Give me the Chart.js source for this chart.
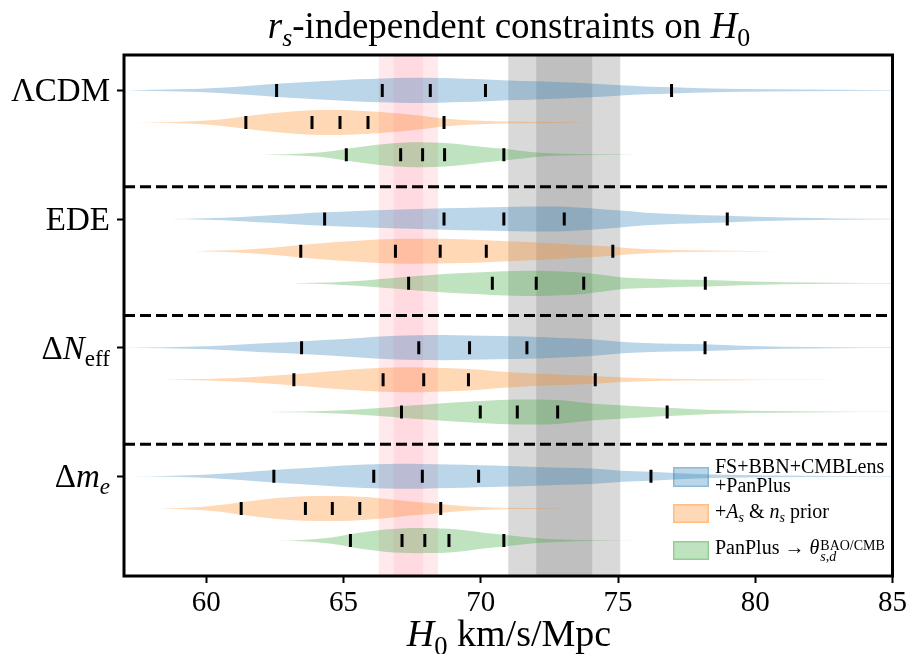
<!DOCTYPE html>
<html>
<head>
<meta charset="utf-8">
<script src="https://cdn.jsdelivr.net/npm/chart.js@4.4.1/dist/chart.umd.min.js"></script>
<style>
  body { margin: 0; background: #fff; }
  #wrap { position: relative; width: 910px; height: 654px; font-family: "Liberation Serif", "Times New Roman", serif; color: #000; }
  #c { position: absolute; left: 0; top: 0; }
  .title { position: absolute; left: 124px; width: 770px; top: 7px; text-align: center; font-size: 37px; line-height: 1; white-space: nowrap; }
  .xlabel { position: absolute; left: 124px; width: 770px; top: 614px; text-align: center; font-size: 38px; line-height: 1; white-space: nowrap; }
  .ylab { position: absolute; right: 800px; top: 0; font-size: 33px; line-height: 1; white-space: nowrap; transform: translateY(-50%); }
  sub { font-size: 70%; line-height: 0; vertical-align: -0.32em; }
  .patch { position: absolute; left: 673px; width: 36px; }
  .ltext { position: absolute; left: 715px; font-size: 20px; line-height: 19px; white-space: nowrap; }
  .ss { display: inline-block; font-size: 70%; line-height: 0.8; vertical-align: -6.8px; margin-left: 1px; }
  .ss span { display: block; }
</style>
</head>
<body>
<div id="wrap">
  <canvas id="c" width="910" height="654"></canvas>
  <div class="title"><i>r<sub>s</sub></i>-independent constraints on <i>H</i><sub>0</sub></div>
  <div class="xlabel"><i>H</i><sub>0</sub> km/s/Mpc</div>
  <div id="ylabels"></div>
  <div id="legend"></div>
</div>
<script>
// y-axis groups
const modelLabels = ['ΛCDM', 'EDE', 'Δ<i>N</i><sub>eff</sub>', 'Δ<i>m</i><sub><i>e</i></sub>'];
const modelRows = [0, 4, 8, 12];
const separatorRows = [3, 7, 11];
const xTickValues = [60, 65, 70, 75, 80, 85];

// legend entries (one per violin colour)
const seriesLabels = [
  'FS+BBN+CMBLens<br>+PanPlus',
  '+<i>A<sub>s</sub></i> &amp; <i>n<sub>s</sub></i> prior',
  'PanPlus → <i>θ</i><span class="ss"><span>BAO/CMB</span><span><i>s</i>,<i>d</i></span></span>'
];
const seriesColors = ['31,119,180', '255,127,14', '44,160,44'];

// reference H0 bands [mean, sigma]
const planckH0 = [67.36, 0.54];
const sh0esH0 = [73.04, 1.02];

// tick marks on each violin (2.5, 16, 50, 84, 97.5 %)
const lcdmFsMarks = [62.56, 66.41, 68.16, 70.17, 76.95];
const lcdmPriorMarks = [61.44, 63.85, 64.87, 65.89, 68.66];
const lcdmThetaMarks = [65.10, 67.08, 67.88, 68.68, 70.84];
const edeFsMarks = [64.31, 68.66, 70.84, 73.04, 78.98];
const edePriorMarks = [63.44, 66.89, 68.52, 70.20, 74.81];
const edeThetaMarks = [67.37, 70.42, 72.02, 73.75, 78.18];
const neffFsMarks = [63.47, 67.74, 69.59, 71.68, 78.17];
const neffPriorMarks = [63.19, 66.44, 67.92, 69.55, 74.17];
const neffThetaMarks = [67.11, 69.98, 71.33, 72.80, 76.79];
const meFsMarks = [62.46, 66.10, 67.87, 69.92, 76.20];
const mePriorMarks = [61.27, 63.61, 64.59, 65.59, 68.54];
const meThetaMarks = [65.25, 67.13, 67.96, 68.84, 70.84];

// violin outlines: [H0, relative half width]
const lcdmFsShape = [[57.1,0],[59,0.08],[60.5,0.2],[61.5,0.35],[62.56,0.52],[63.5,0.65],[64.5,0.77],[65.5,0.88],[66.4,0.95],[67.5,1.0],[68.5,0.98],[69.4,0.93],[70.2,0.87],[71,0.79],[72,0.72],[73,0.64],[74,0.55],[75.1,0.4],[76,0.31],[77,0.24],[78.5,0.14],[80.5,0.08],[83,0.04],[85,0.02]];
const lcdmPriorShape = [[57.4,0],[58.5,0.03],[59.5,0.1],[60.5,0.25],[61.44,0.5],[62.3,0.72],[63.1,0.88],[63.85,0.97],[64.4,1.0],[64.9,0.99],[65.9,0.9],[66.6,0.8],[67.3,0.66],[68,0.5],[68.66,0.32],[69.5,0.18],[70.5,0.1],[71.5,0.06],[73,0.03],[74.2,0]];
const lcdmThetaShape = [[62,0],[63,0.04],[64,0.15],[64.6,0.3],[65.1,0.46],[65.8,0.68],[66.5,0.86],[67.1,0.96],[67.9,1.0],[68.7,0.94],[69.4,0.8],[70.1,0.62],[70.84,0.47],[71.5,0.3],[72,0.18],[73,0.07],[74,0.03],[75.7,0]];
const edeFsShape = [[58.67,0],[60,0.06],[61.3,0.17],[62.5,0.32],[63.4,0.43],[64.31,0.53],[65.5,0.64],[66.8,0.74],[68.66,0.85],[70,0.92],[70.84,0.95],[71.8,0.99],[72.5,1.0],[73.04,0.98],[74,0.86],[75.07,0.67],[76,0.5],[77.2,0.38],[78.2,0.31],[78.98,0.27],[80,0.18],[81.5,0.1],[83,0.05],[85,0.02]];
const edePriorShape = [[59.58,0],[60.5,0.05],[61.5,0.14],[62.5,0.3],[63.44,0.5],[64.3,0.66],[65.2,0.8],[66.1,0.92],[66.89,0.98],[67.7,1.0],[68.52,0.99],[69.4,0.95],[70.2,0.88],[71,0.8],[72,0.7],[73,0.58],[74,0.46],[74.81,0.36],[75.6,0.22],[76.5,0.13],[77.5,0.07],[79,0.03],[80.8,0]];
const edeThetaShape = [[63.1,0],[64,0.04],[65,0.13],[66,0.27],[66.7,0.4],[67.37,0.52],[68.2,0.66],[69.2,0.8],[70.42,0.92],[71.3,0.98],[72.02,1.0],[72.9,0.95],[73.75,0.84],[74.4,0.68],[75.07,0.48],[76,0.38],[77,0.31],[78.18,0.26],[79.5,0.16],[81,0.08],[83,0.04],[85,0.02]];
const neffFsShape = [[57,0],[58.5,0.04],[60,0.12],[61.3,0.26],[62.5,0.4],[63.47,0.5],[64.5,0.63],[65.6,0.78],[66.7,0.92],[67.74,0.99],[68.6,1.0],[69.59,0.97],[70.6,0.93],[71.68,0.89],[72.5,0.82],[73.3,0.75],[74.04,0.67],[75.07,0.47],[76,0.37],[77,0.31],[78.17,0.27],[79.5,0.16],[81,0.08],[83,0.04],[85,0.02]];
const neffPriorShape = [[57.83,0],[59,0.02],[60,0.06],[61,0.14],[62.1,0.28],[63.19,0.45],[64.2,0.63],[65.3,0.82],[66.44,0.96],[67.2,1.0],[67.92,0.99],[68.7,0.94],[69.55,0.86],[70.6,0.68],[71.6,0.54],[72.6,0.44],[73.4,0.37],[74.17,0.31],[75,0.2],[76,0.12],[77.5,0.06],[79.5,0.03],[82,0.01],[84,0]];
const neffThetaShape = [[62.19,0],[63.5,0.03],[64.5,0.1],[65.5,0.2],[66.3,0.32],[67.11,0.46],[68,0.6],[69,0.76],[69.98,0.88],[70.7,0.96],[71.33,1.0],[72,1.0],[72.8,0.95],[73.5,0.8],[74.04,0.68],[75.07,0.53],[76,0.42],[76.79,0.33],[77.8,0.22],[79,0.13],[80.5,0.07],[82.5,0.03],[85,0.01]];
const meFsShape = [[57.27,0],[58.5,0.03],[59.7,0.1],[60.8,0.24],[61.7,0.38],[62.46,0.5],[63.5,0.64],[64.6,0.8],[65.4,0.9],[66.1,0.96],[67,1.0],[67.87,0.99],[68.9,0.94],[69.92,0.88],[71,0.82],[72,0.75],[73,0.68],[74.04,0.62],[75.07,0.45],[76.2,0.36],[77.2,0.24],[78.5,0.14],[80.5,0.07],[83,0.03],[85,0.02]];
const mePriorShape = [[58.24,0],[59,0.04],[59.8,0.12],[60.5,0.27],[61.27,0.5],[62,0.7],[62.8,0.87],[63.61,0.97],[64.3,1.0],[64.8,0.99],[65.59,0.93],[66.3,0.82],[67.1,0.64],[67.8,0.5],[68.54,0.36],[69.3,0.2],[70.2,0.1],[71.3,0.05],[72.5,0.02],[74,0]];
const meThetaShape = [[62.56,0],[63.5,0.05],[64.3,0.18],[64.8,0.33],[65.25,0.5],[65.9,0.72],[66.5,0.88],[67.13,0.97],[67.7,1.0],[68.3,0.99],[68.84,0.94],[69.5,0.8],[70.1,0.63],[70.84,0.47],[71.5,0.3],[72.2,0.17],[73,0.08],[74,0.03],[75.7,0]];

const groupShapes = [
  [lcdmFsShape, lcdmPriorShape, lcdmThetaShape],
  [edeFsShape, edePriorShape, edeThetaShape],
  [neffFsShape, neffPriorShape, neffThetaShape],
  [meFsShape, mePriorShape, meThetaShape]
];
const groupMarks = [
  [lcdmFsMarks, lcdmPriorMarks, lcdmThetaMarks],
  [edeFsMarks, edePriorMarks, edeThetaMarks],
  [neffFsMarks, neffPriorMarks, neffThetaMarks],
  [meFsMarks, mePriorMarks, meThetaMarks]
];

const halfWidth = 0.39; // max half width of a violin, in row units

const datasets = [];
groupShapes.forEach((shapes, g) => {
  shapes.forEach((shape, s) => {
    const row = modelRows[g] + s;
    datasets.push({
      type: 'line', order: 3,
      data: shape.map(([h, w]) => ({ x: h, y: row - w * halfWidth })),
      fill: '+1', backgroundColor: `rgba(${seriesColors[s]},0.3)`,
      borderColor: 'rgba(0,0,0,0)', borderWidth: 1,
      pointRadius: 0, pointHitRadius: 0, cubicInterpolationMode: 'monotone'
    });
    datasets.push({
      type: 'line', order: 3,
      data: shape.map(([h, w]) => ({ x: h, y: row + w * halfWidth })),
      fill: false, borderColor: 'rgba(0,0,0,0)', borderWidth: 1,
      pointRadius: 0, pointHitRadius: 0, cubicInterpolationMode: 'monotone'
    });
    datasets.push({
      type: 'scatter', order: 0,
      data: groupMarks[g][s].map(h => ({ x: h, y: row })),
      pointStyle: 'line', rotation: 90, pointRadius: 6.5, pointHoverRadius: 6.5,
      borderColor: '#000', borderWidth: 3, showLine: false
    });
  });
});

separatorRows.forEach(r => {
  datasets.push({
    type: 'line', order: 1,
    data: [{ x: 57, y: r }, { x: 85, y: r }],
    borderColor: '#000', borderWidth: 3, borderDash: [11, 5],
    pointRadius: 0, fill: false
  });
});

const bandsPlugin = {
  id: 'bands',
  beforeDatasetsDraw(chart) {
    const { ctx, chartArea: a, scales: { x } } = chart;
    ctx.save();
    [[planckH0, 'rgba(255,192,203,0.35)'], [sh0esH0, 'rgba(128,128,128,0.3)']].forEach(([b, col]) => {
      [2, 1].forEach(k => {
        const l = x.getPixelForValue(b[0] - k * b[1]);
        const r = x.getPixelForValue(b[0] + k * b[1]);
        ctx.fillStyle = col;
        ctx.fillRect(l, a.top, r - l, a.bottom - a.top);
      });
    });
    ctx.restore();
  }
};

const framePlugin = {
  id: 'frame',
  afterDatasetsDraw(chart) {
    const { ctx, chartArea: a } = chart;
    ctx.save();
    ctx.strokeStyle = '#000';
    ctx.lineWidth = 3;
    ctx.strokeRect(a.left, a.top, a.right - a.left, a.bottom - a.top);
    ctx.restore();
  },
  afterDraw(chart) {
    // place the html category labels on the y ticks
    const y = chart.scales.y;
    const box = document.getElementById('ylabels');
    if (!box.childElementCount) {
      modelLabels.forEach(t => {
        const d = document.createElement('div');
        d.className = 'ylab';
        d.innerHTML = t;
        box.appendChild(d);
      });
    }
    [...box.children].forEach((d, i) => { d.style.top = y.getPixelForValue(modelRows[i]) + 'px'; });
  }
};

// legend
const legendTops = [[467, 20, 457], [504, 19, 502], [541, 19, 538]];
const legendBox = document.getElementById('legend');
seriesLabels.forEach((t, i) => {
  const p = document.createElement('div');
  p.className = 'patch';
  p.style.top = legendTops[i][0] + 'px';
  p.style.height = legendTops[i][1] + 'px';
  p.style.background = `rgba(${seriesColors[i]},0.3)`;
  p.style.boxShadow = `inset 0 0 0 1.5px rgba(${seriesColors[i]},0.3)`;
  legendBox.appendChild(p);
  const l = document.createElement('div');
  l.className = 'ltext';
  l.style.top = legendTops[i][2] + 'px';
  l.innerHTML = t;
  legendBox.appendChild(l);
});

new Chart(document.getElementById('c'), {
  type: 'line',
  data: { datasets },
  options: {
    responsive: false,
    animation: false,
    devicePixelRatio: 1,
    layout: { padding: { top: 55, right: 16, left: 0, bottom: 0 } },
    plugins: { legend: { display: false }, tooltip: { enabled: false } },
    scales: {
      x: {
        type: 'linear', min: 57, max: 85,
        afterBuildTicks: s => { s.ticks = xTickValues.map(v => ({ value: v })); },
        afterFit: s => { s.height = 78; },
        grid: { drawOnChartArea: false, drawTicks: true, tickLength: 7, tickWidth: 2, tickColor: '#000' },
        border: { display: false },
        ticks: { color: '#000', padding: 3, maxRotation: 0, font: { family: 'Liberation Serif', size: 29 } }
      },
      y: {
        type: 'linear', reverse: true, min: -1.1, max: 15.1,
        afterBuildTicks: s => { s.ticks = modelRows.map(v => ({ value: v })); },
        afterFit: s => { s.width = 124; },
        grid: { drawOnChartArea: false, drawTicks: true, tickLength: 7, tickWidth: 2, tickColor: '#000' },
        border: { display: false },
        ticks: { display: false }
      }
    }
  },
  plugins: [bandsPlugin, framePlugin]
});
</script>
</body>
</html>
